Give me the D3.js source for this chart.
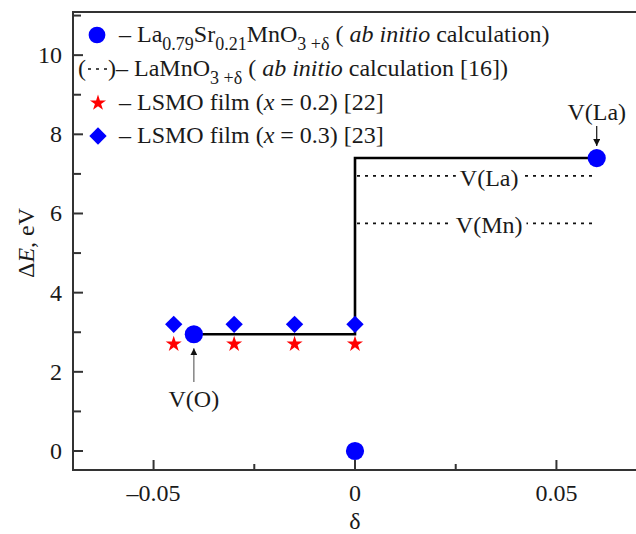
<!DOCTYPE html>
<html>
<head>
<meta charset="utf-8">
<script src="https://cdn.jsdelivr.net/npm/d3@7"></script>
<style>
  body { margin: 0; background: #fff; }
  svg { font-family: 'Liberation Serif', 'Times New Roman', Times, 'DejaVu Serif', serif; }
  svg text { fill: #1a1a1a; }
</style>
</head>
<body>
<div id="chart"></div>
<script>
// Data
var calcX = [-0.04, 0, 0.06];
var calcY = [2.95, 0, 7.4];

var stepX = [-0.04, 0, 0, 0.06];
var stepY = [2.95, 2.95, 7.4, 7.4];

var filmX = [-0.045, -0.03, -0.015, 0];
var film02Y = [2.7, 2.7, 2.7, 2.7];
var film03Y = [3.2, 3.2, 3.2, 3.2];

var refNames = ['V(La)', 'V(Mn)'];
var refLevels = [6.95, 5.75];
var refRange = [0, 0.06];

var xMajor = [-0.05, 0, 0.05];
var xMinor = [-0.025, 0.025];
var xLabels = ['\u20130.05', '0', '0.05'];
var yMajor = [0, 2, 4, 6, 8, 10];
var yMinor = [1, 3, 5, 7, 9, 11];

var width = 636, height = 534;
var blue = '#0000ff', red = '#ff0000';

var svg = d3.select('#chart').append('svg')
  .attr('width', width)
  .attr('height', height)
  .attr('font-family', "'Liberation Serif', 'Times New Roman', serif");

var x = d3.scaleLinear().domain([-0.07, 0.07]).range([73, 637]);
var y = d3.scaleLinear().domain([-0.48, 11.09]).range([470, 12]);

// Frame: left, bottom, top
var frame = svg.append('g').attr('stroke', '#333').attr('stroke-width', 2).attr('fill', 'none');
frame.append('line').attr('x1', x.range()[0]).attr('x2', x.range()[0]).attr('y1', y.range()[1]).attr('y2', y.range()[0] + 1);
frame.append('line').attr('x1', x.range()[0] - 1).attr('x2', width).attr('y1', y.range()[0]).attr('y2', y.range()[0]);
frame.append('line').attr('x1', x.range()[0] - 1).attr('x2', width).attr('y1', y.range()[1]).attr('y2', y.range()[1]);

// Ticks (inward)
var ticks = svg.append('g').attr('stroke', '#333').attr('stroke-width', 2);
ticks.selectAll('.xmaj').data(xMajor).enter().append('line')
  .attr('x1', function(d) { return x(d); }).attr('x2', function(d) { return x(d); })
  .attr('y1', y.range()[0]).attr('y2', y.range()[0] - 10);
ticks.selectAll('.xmin').data(xMinor).enter().append('line')
  .attr('x1', function(d) { return x(d); }).attr('x2', function(d) { return x(d); })
  .attr('y1', y.range()[0]).attr('y2', y.range()[0] - 6);
ticks.selectAll('.ymaj').data(yMajor).enter().append('line')
  .attr('y1', function(d) { return y(d); }).attr('y2', function(d) { return y(d); })
  .attr('x1', x.range()[0]).attr('x2', x.range()[0] + 10);
ticks.selectAll('.ymin').data(yMinor).enter().append('line')
  .attr('y1', function(d) { return y(d); }).attr('y2', function(d) { return y(d); })
  .attr('x1', x.range()[0]).attr('x2', x.range()[0] + 8);

// Tick labels
svg.selectAll('.xlab').data(xMajor).enter().append('text')
  .attr('x', function(d) { return x(d); })
  .attr('y', 501)
  .attr('text-anchor', 'middle')
  .attr('font-size', 24)
  .text(function(d, i) { return xLabels[i]; });
svg.selectAll('.ylab').data(yMajor).enter().append('text')
  .attr('x', 62)
  .attr('y', function(d) { return y(d) + 8; })
  .attr('text-anchor', 'end')
  .attr('font-size', 24)
  .text(function(d) { return d; });

// Axis titles
svg.append('text')
  .attr('x', x(0)).attr('y', 529)
  .attr('text-anchor', 'middle').attr('font-size', 24)
  .text('\u03b4');
var yt = svg.append('text')
  .attr('transform', 'translate(34,243) rotate(-90)')
  .attr('text-anchor', 'middle').attr('font-size', 24);
yt.append('tspan').text('\u0394');
yt.append('tspan').attr('font-style', 'italic').text('E');
yt.append('tspan').text(', eV');

// Reference levels from LaMnO3 calculation (dotted)
refLevels.forEach(function(v, i) {
  svg.append('line')
    .attr('x1', x(refRange[0]) + 2).attr('x2', x(refRange[1]))
    .attr('y1', y(v)).attr('y2', y(v))
    .attr('stroke', '#111').attr('stroke-width', 1.6)
    .attr('stroke-dasharray', '3,5');
  var t = svg.append('text')
    .attr('x', x(0.0333)).attr('y', y(v) + 10)
    .attr('text-anchor', 'middle').attr('font-size', 24)
    .text(refNames[i]);
  var bb = t.node().getBBox();
  svg.insert('rect', function() { return t.node(); })
    .attr('x', bb.x - 4).attr('y', y(v) - 3)
    .attr('width', bb.width + 8).attr('height', 6)
    .attr('fill', '#fff');
});

// Step line
var line = d3.line().x(function(d) { return x(d[0]); }).y(function(d) { return y(d[1]); });
svg.append('path')
  .datum(d3.zip(stepX, stepY))
  .attr('d', line)
  .attr('fill', 'none')
  .attr('stroke', '#000')
  .attr('stroke-width', 2.6);

// Markers
var starPath = d3.symbol().type(d3.symbolStar).size(80)();
var diamondPath = d3.symbol().type(d3.symbolSquare).size(150)();
var circlePath = d3.symbol().type(d3.symbolCircle).size(260)();

svg.selectAll('.star').data(d3.zip(filmX, film02Y)).enter().append('path')
  .attr('d', starPath)
  .attr('transform', function(d) { return 'translate(' + x(d[0]) + ',' + y(d[1]) + ')'; })
  .attr('fill', red);
svg.selectAll('.dia').data(d3.zip(filmX, film03Y)).enter().append('path')
  .attr('d', diamondPath)
  .attr('transform', function(d) { return 'translate(' + x(d[0]) + ',' + y(d[1]) + ') rotate(45)'; })
  .attr('fill', blue);
svg.selectAll('.calc').data(d3.zip(calcX, calcY)).enter().append('path')
  .attr('d', circlePath)
  .attr('transform', function(d) { return 'translate(' + x(d[0]) + ',' + y(d[1]) + ')'; })
  .attr('fill', blue);

// Annotations with arrows
svg.append('defs').append('marker')
  .attr('id', 'arrow')
  .attr('viewBox', '0 0 10 10')
  .attr('refX', 10).attr('refY', 5)
  .attr('markerWidth', 7).attr('markerHeight', 7)
  .attr('markerUnits', 'userSpaceOnUse')
  .attr('orient', 'auto')
  .append('path').attr('d', 'M0,0L10,5L0,10z').attr('fill', '#111');

var vla = [calcX[2], calcY[2]];
svg.append('text')
  .attr('x', x(vla[0])).attr('y', 120)
  .attr('text-anchor', 'middle').attr('font-size', 24)
  .text('V(La)');
svg.append('line')
  .attr('x1', x(vla[0])).attr('x2', x(vla[0]))
  .attr('y1', 126).attr('y2', y(vla[1]) - 12)
  .attr('stroke', '#111').attr('stroke-width', 1.2)
  .attr('marker-end', 'url(#arrow)');

var vo = [calcX[0], calcY[0]];
svg.append('text')
  .attr('x', x(vo[0])).attr('y', 407)
  .attr('text-anchor', 'middle').attr('font-size', 24)
  .text('V(O)');
svg.append('line')
  .attr('x1', x(vo[0])).attr('x2', x(vo[0]))
  .attr('y1', 382).attr('y2', y(vo[1]) + 14)
  .attr('stroke', '#666').attr('stroke-width', 1.2)
  .attr('marker-end', 'url(#arrow)');

// Legend
var lg = svg.append('g').attr('font-size', 24);
var rows = [42, 76, 110, 143];

lg.append('path').attr('d', d3.symbol().type(d3.symbolCircle).size(220)())
  .attr('transform', 'translate(97,35)').attr('fill', blue);
var t1 = lg.append('text').attr('x', 119).attr('y', rows[0]);
t1.append('tspan').text('\u2013 La');
t1.append('tspan').attr('font-size', 18).attr('dy', 8).text('0.79');
t1.append('tspan').attr('dy', -8).text('Sr');
t1.append('tspan').attr('font-size', 18).attr('dy', 8).text('0.21');
t1.append('tspan').attr('dy', -8).text('MnO');
t1.append('tspan').attr('font-size', 18).attr('dy', 8).text('3 +\u03b4');
t1.append('tspan').attr('dy', -8).text(' ( ');
t1.append('tspan').attr('font-style', 'italic').text('ab initio');
t1.append('tspan').text(' calculation)');

var t2 = lg.append('text').attr('x', 78).attr('y', rows[1]);
t2.append('tspan').text('(');
t2.append('tspan').attr('dx', 22).text(')\u2013 LaMnO');
t2.append('tspan').attr('font-size', 18).attr('dy', 8).text('3 +\u03b4');
t2.append('tspan').attr('dy', -8).text(' ( ');
t2.append('tspan').attr('font-style', 'italic').text('ab initio');
t2.append('tspan').text(' calculation [16])');
lg.append('line')
  .attr('x1', 88).attr('x2', 109).attr('y1', rows[1] - 7).attr('y2', rows[1] - 7)
  .attr('stroke', '#111').attr('stroke-width', 1.6).attr('stroke-dasharray', '3,5');

lg.append('path').attr('d', starPath).attr('transform', 'translate(98,103)').attr('fill', red);
var t3 = lg.append('text').attr('x', 119).attr('y', rows[2]);
t3.append('tspan').text('\u2013 LSMO film (');
t3.append('tspan').attr('font-style', 'italic').text('x');
t3.append('tspan').text(' = 0.2) [22]');

lg.append('path').attr('d', diamondPath).attr('transform', 'translate(98,136) rotate(45)').attr('fill', blue);
var t4 = lg.append('text').attr('x', 119).attr('y', rows[3]);
t4.append('tspan').text('\u2013 LSMO film (');
t4.append('tspan').attr('font-style', 'italic').text('x');
t4.append('tspan').text(' = 0.3) [23]');
</script>
</body>
</html>
